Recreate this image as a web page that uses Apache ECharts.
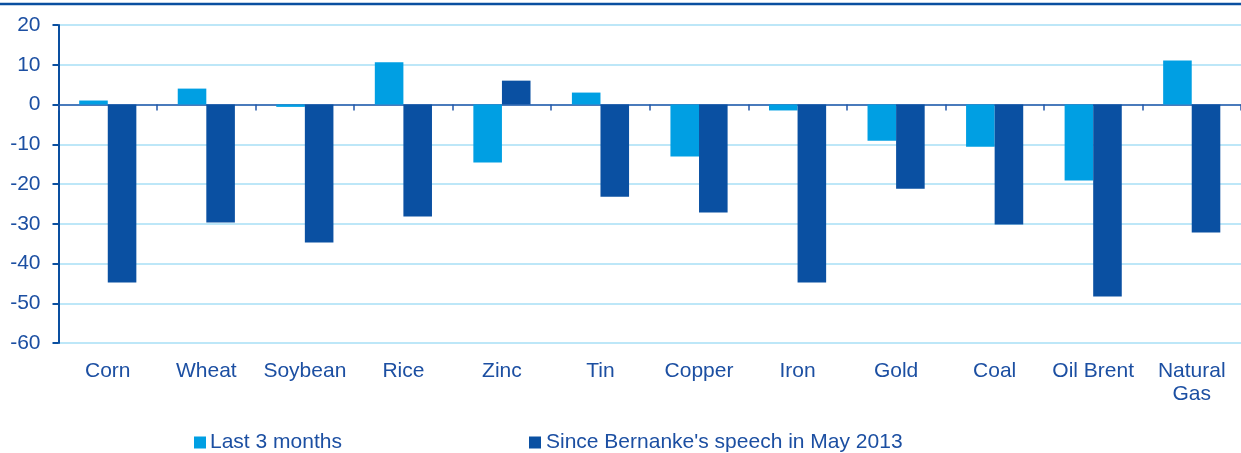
<!DOCTYPE html>
<html>
<head>
<meta charset="utf-8">
<script src="https://cdn.jsdelivr.net/npm/echarts@6/dist/echarts.min.js"></script>
<style>
html,body{margin:0;padding:0;background:#fff;}
#chart{width:1241px;height:453px;}
</style>
</head>
<body>
<div id="chart"></div>
<script>
var categories = ['Corn', 'Wheat', 'Soybean', 'Rice', 'Zinc', 'Tin', 'Copper', 'Iron', 'Gold', 'Coal', 'Oil Brent', 'Natural\nGas'];
var last3Months = [1.0, 4.0, -0.6, 10.6, -14.6, 3.0, -13.1, -1.5, -9.1, -10.6, -19.1, 11.1];
var sinceBernanke = [-44.8, -29.7, -34.7, -28.2, 6.0, -23.2, -27.2, -44.8, -21.2, -30.2, -48.3, -32.2];
var seriesNames = ['Last 3 months', "Since Bernanke's speech in May 2013"];
var yTicks = { min: -60, max: 20, interval: 10 };

var textColor = '#1c4fa2';
var lightBlue = '#009fe3';
var darkBlue = '#0a50a2';
var font = 'Liberation Sans, Arial, sans-serif';

var chart = echarts.init(document.getElementById('chart'), null, { renderer: 'canvas' });
chart.setOption({
  animation: false,
  backgroundColor: '#fff',
  textStyle: { fontFamily: font },
  graphic: [{
    type: 'line',
    shape: { x1: 0, y1: 4, x2: 1241, y2: 4 },
    style: { stroke: '#0a4fa0', lineWidth: 2.5 }
  }],
  grid: { left: 58.5, right: -12.7, top: 25, bottom: 110, containLabel: false },
  legend: [
    {
      data: [seriesNames[0]], left: 194, top: 432, padding: 0, itemWidth: 12, itemHeight: 12, itemGap: 0,
      icon: 'rect',
      textStyle: { color: textColor, fontSize: 21, fontFamily: font, padding: [0, 0, 0, -1] }
    },
    {
      data: [seriesNames[1]], left: 529, top: 432, padding: 0, itemWidth: 12, itemHeight: 12, itemGap: 0,
      icon: 'rect',
      textStyle: { color: textColor, fontSize: 21, fontFamily: font, padding: [0, 0, 0, 0] }
    }
  ],
  xAxis: [
    {
      type: 'category', data: categories, position: 'bottom',
      axisLine: { show: false, onZero: false },
      axisTick: { show: false },
      axisLabel: { color: textColor, fontSize: 21, fontFamily: font, margin: 17, lineHeight: 23, interval: 0 },
      splitLine: { show: false }
    },
    {
      type: 'category', data: categories, position: 'bottom',
      axisLine: { show: true, onZero: true, lineStyle: { color: '#2458a8', width: 1.5 } },
      axisTick: { show: true, length: 6, inside: false, lineStyle: { color: '#2458a8', width: 1.5 } },
      axisLabel: { show: false },
      splitLine: { show: false }
    }
  ],
  yAxis: {
    type: 'value', min: yTicks.min, max: yTicks.max, interval: yTicks.interval,
    axisLine: { show: true, lineStyle: { color: '#0a4fa0', width: 2 } },
    axisTick: { show: true, length: 6, lineStyle: { color: '#0a4fa0', width: 2 } },
    axisLabel: { color: textColor, fontSize: 21, fontFamily: font, margin: 18 },
    splitLine: { show: true, lineStyle: { color: '#bde7f8', width: 2 } }
  },
  series: [
    {
      name: seriesNames[0], type: 'bar', data: last3Months, xAxisIndex: 0,
      itemStyle: { color: lightBlue }, barGap: '0%', barCategoryGap: '42%'
    },
    {
      name: seriesNames[1], type: 'bar', data: sinceBernanke, xAxisIndex: 0,
      itemStyle: { color: darkBlue }, barGap: '0%', barCategoryGap: '42%'
    }
  ]
});
</script>
</body>
</html>
